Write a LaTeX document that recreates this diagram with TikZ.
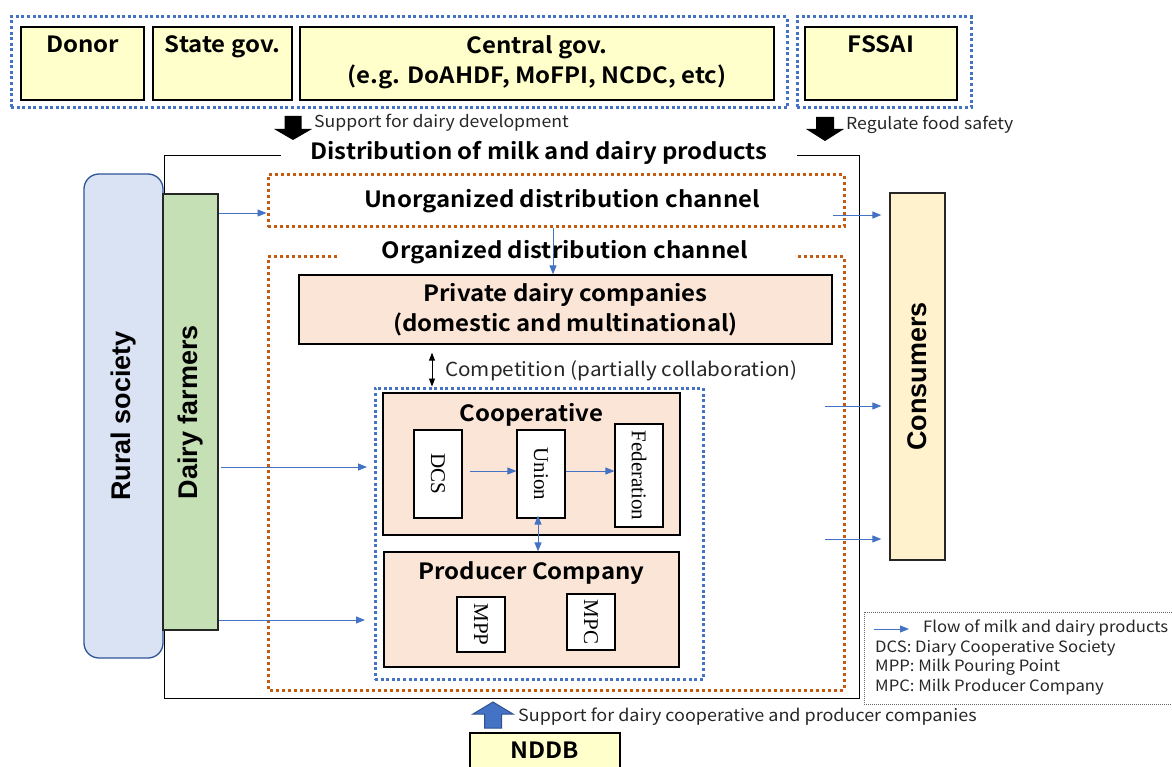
\documentclass[tikz,border=0pt]{standalone}
\usepackage{fontspec}
\setmainfont{Liberation Sans}
\newfontfamily\jp{Noto Sans CJK JP}[BoldFont={Noto Sans CJK JP Bold},FakeStretch=1.07]
\newfontfamily\serifft{Liberation Serif}
\usetikzlibrary{arrows.meta}
\definecolor{yfill}{HTML}{FFFFCC}
\definecolor{bdot}{HTML}{4472C4}
\definecolor{odot}{HTML}{C55A11}
\definecolor{peach}{HTML}{FBE5D6}
\definecolor{gfill}{HTML}{C5E0B4}
\definecolor{lbfill}{HTML}{DAE3F3}
\definecolor{rborder}{HTML}{2F5597}
\definecolor{cfill}{HTML}{FFF2CC}
\definecolor{darkblue}{HTML}{2F528F}
\begin{document}
\begin{tikzpicture}[x=1pt,y=-1pt,
  ybox/.style={draw=black,line width=1.3pt,fill=yfill,inner sep=0pt},
  pbox/.style={draw=black,line width=1.3pt,fill=peach,inner sep=0pt},
  wbox/.style={draw=black,line width=1.2pt,fill=white,inner sep=0pt,font=\serifft\fontsize{21}{24}\selectfont},
  bluedots/.style={draw=bdot,line width=3pt,dash pattern=on 3pt off 2.6pt,inner sep=0pt},
  orangedots/.style={draw=odot,line width=3pt,dash pattern=on 3pt off 3pt},
  bigtxt/.style={font=\jp\bfseries\fontsize{22.4}{30}\selectfont,inner sep=0pt,align=center},
  smalltxt/.style={font=\jp\fontsize{16.5}{20}\selectfont,inner sep=0pt,text=black!85},
  legtxt/.style={font=\jp\fontsize{15.6}{19}\selectfont,inner sep=0pt,text=black!85,anchor=west},
  sidetxt/.style={font=\bfseries\fontsize{27}{30}\selectfont},
  flow/.style={draw=bdot,line width=0.9pt,-{Triangle[length=9pt,width=7pt]}},
  flowboth/.style={draw=bdot,line width=0.9pt,{Triangle[length=9pt,width=7pt]}-{Triangle[length=9pt,width=7pt]}},
]
\useasboundingbox (0,0) rectangle (1172,767);

% top group boxes
\node[bluedots,minimum width=776,minimum height=91] (grpA) at (399,62.5) {};
\node[bluedots,minimum width=174,minimum height=91] (grpB) at (884,62.5) {};
\node[ybox,minimum width=123,minimum height=73,
  label={[bigtxt,anchor=north,yshift=-9.5pt]north:Donor}] (donor) at (82.5,63.5) {};
\node[ybox,minimum width=139,minimum height=73,
  label={[bigtxt,anchor=north,yshift=-9.5pt]north:State gov.}] (state) at (222.5,63.5) {};
\node[ybox,minimum width=474,minimum height=73,
  label={[bigtxt,anchor=north,yshift=-9.5pt]north:Central gov.\\(e.g. DoAHDF, MoFPI, NCDC, etc)}] (central) at (537,63.5) {};
\node[ybox,minimum width=152,minimum height=73,
  label={[bigtxt,anchor=north,yshift=-9.5pt]north:FSSAI}] (fssai) at (881,63.5) {};

% black block arrows
\fill[black] (284.5,116) -- (301.5,116) -- (301.5,129) -- (312,129) -- (293,140) -- (274,129) -- (284.5,129) -- cycle;
\node[smalltxt,anchor=west] (supp1) at (314,123) {Support for dairy development};
\fill[black] (816,117) -- (834,117) -- (834,129) -- (844,129) -- (825,141) -- (806,129) -- (816,129) -- cycle;
\node[smalltxt,anchor=west] (supp2) at (846,125) {Regulate food safety};

% outer distribution frame
\draw[black,line width=1pt] (281,156) -- (164,156) -- (164,698) -- (859,698) -- (859,156) -- (797,156);
\node[bigtxt] (disttitle) at (539,153) {Distribution of milk and dairy products};

% side boxes
\node[draw=rborder,line width=1.3pt,fill=lbfill,rounded corners=15pt,rotate=90,
  minimum width=484,minimum height=79,sidetxt] (rural) at (123.5,416) {Rural society};
\node[draw=black!85,line width=1.3pt,fill=gfill,rotate=90,
  minimum width=436,minimum height=55,sidetxt] (farmers) at (190.5,412) {Dairy farmers};
\node[draw=black!85,line width=1.3pt,fill=cfill,rotate=90,
  minimum width=367,minimum height=55,sidetxt] (consumers) at (917.5,376.5) {Consumers};

% channels
\node[orangedots,minimum width=576,minimum height=52,bigtxt] (unorg) at (556,201) {\hspace*{12pt}Unorganized distribution channel};
\draw[orangedots] (337,257) -- (268,257) -- (268,690) -- (844,690) -- (844,257) -- (795,257);
\node[bigtxt] (orgtitle) at (565,252) {Organized distribution channel};

\node[pbox,minimum width=533,minimum height=69,bigtxt] (private) at (565.5,309.5) {Private dairy companies\\(domestic and multinational)};

% cooperative group
\node[bluedots,minimum width=328,minimum height=291] (grpC) at (539,533.5) {};
\node[pbox,minimum width=297,minimum height=142,
  label={[bigtxt,anchor=north,yshift=-10.5pt]north:Cooperative}] (coop) at (531.5,464) {};
\node[wbox,rotate=-90,minimum width=88,minimum height=48] (dcs) at (438,474) {DCS};
\node[wbox,rotate=-90,minimum width=88,minimum height=48] (union) at (541,474) {Union};
\node[wbox,rotate=-90,minimum width=103,minimum height=48] (fed) at (639,475.5) {Federation};
\node[pbox,minimum width=295,minimum height=115,
  label={[bigtxt,anchor=north,yshift=-10pt]north:Producer Company}] (producer) at (531.5,609.5) {};
\node[wbox,rotate=-90,minimum width=55,minimum height=48] (mpp) at (481,624.5) {MPP};
\node[wbox,rotate=-90,minimum width=56,minimum height=48] (mpc) at (591,622) {MPC};

% flows inside cooperative
\draw[flow] ([yshift=3]dcs.north) ++(7,0) -- ([yshift=3]dcs.north -| union.south);
\draw[flow] ([yshift=3]union.north) -- ([yshift=3]union.north -| fed.south);
\coordinate (ux2) at (538,0);
\draw[flowboth] (union.east -| ux2) ++(0,-3) -- (producer.north -| ux2);

% competition
\coordinate (cx) at (432,0);
\draw[black,line width=0.9pt,{Triangle[length=8pt,width=6pt]}-{Triangle[length=8pt,width=6pt]},shorten <=8pt] (private.south -| cx) -- (grpC.north -| cx);
\node[smalltxt,font=\jp\fontsize{19.3}{22}\selectfont,anchor=west] (comp) at (445,371) {Competition (partially collaboration)};

% unorganized to private
\coordinate (ux) at (553,0);
\draw[flow] (unorg.south -| ux) -- (private.north -| ux);

% farmers to channels
\draw[flow] (farmers.south |- 0,213) -- (unorg.west |- 0,213);
\draw[flow,shorten <=2pt] (farmers.south |- 0,467) -- (367,467);
\draw[flow] (farmers.south |- 0,620) -- (365,620);

% to consumers
\coordinate (o0) at (833,215);
\coordinate (o1) at (825,406);
\coordinate (o2) at (825,539);
\draw[flow,shorten >=8pt] (o0) -- (consumers.north |- o0);
\draw[flow,shorten >=8pt] (o1) -- (consumers.north |- o1);
\draw[flow,shorten >=8pt] (o2) -- (consumers.north |- o2);

% NDDB
\node[ybox,minimum width=150,minimum height=44,bigtxt,text depth=10pt] (nddb) at (545,755) {NDDB};
\filldraw[fill=bdot,draw=darkblue,line width=1pt] (484.5,728) -- (501.5,728) -- (501.5,714) -- (513,714) -- (493,702) -- (473,714) -- (484.5,714) -- cycle;
\node[smalltxt,font=\jp\fontsize{16.8}{20}\selectfont,anchor=west] (supp3) at (518,717) {Support for dairy cooperative and producer companies};

% legend
\draw[black!60,line width=0.7pt,dash pattern=on 1pt off 1pt] (864,612) rectangle (1185,704);
\coordinate (lg1) at (874,629);
\coordinate (lg2) at (909,629);
\draw[flow] (lg1) -- (lg2);
\node[legtxt] (leg0) at (923,628) {Flow of milk and dairy products};
\node[legtxt] (leg1) at (875,648) {DCS: Diary Cooperative Society};
\node[legtxt] (leg2) at (875,667) {MPP: Milk Pouring Point};
\node[legtxt] (leg3) at (875,687) {MPC: Milk Producer Company};
\end{tikzpicture}
\end{document}
